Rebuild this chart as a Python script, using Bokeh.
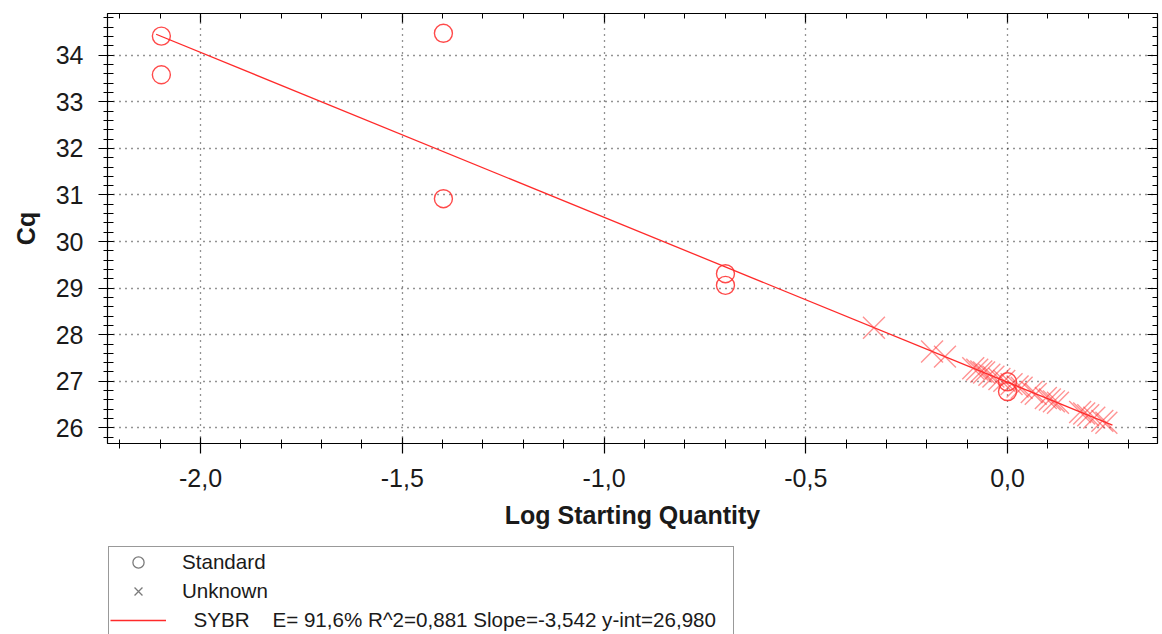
import numpy as np
from bokeh.plotting import figure
from bokeh.layouts import column
from bokeh.models import (LinearAxis, FixedTicker, CustomJSTickFormatter, Legend,
                          LegendItem, Range1d, ColumnDataSource)
from bokeh.embed import file_html
from bokeh.resources import INLINE

# ---- data ----
std_x = [-2.097, -2.097, -1.398, -1.398, -0.699, -0.699, 0.0, 0.0]
std_y = [34.41, 33.58, 34.47, 30.92, 29.31, 29.06, 26.99, 26.78]

unk_x = [-0.331, -0.187, -0.155, -0.085, -0.075, -0.065, -0.058, -0.045, -0.035,
         -0.020, -0.008, 0.010, 0.025, 0.035, 0.060, 0.070, 0.095, 0.105, 0.115,
         0.125, 0.180, 0.190, 0.200, 0.215, 0.235, 0.245]
unk_y = [28.15, 27.64, 27.53, 27.28, 27.25, 27.21, 27.19, 27.14, 27.10,
         27.05, 27.01, 26.94, 26.89, 26.86, 26.77, 26.73, 26.64, 26.61, 26.57,
         26.54, 26.34, 26.31, 26.27, 26.22, 26.15, 26.11]

fit_x = [-2.11, 0.26]
fit_y = [34.45, 26.06]

x_ticks = [-2.0, -1.5, -1.0, -0.5, 0.0]
y_ticks = [26, 27, 28, 29, 30, 31, 32, 33, 34]

legend_labels = ["Standard", "Unknown",
                 "\u00a0\u00a0SYBR\u00a0\u00a0\u00a0\u00a0E= 91,6% R^2=0,881 Slope=-3,542 y-int=26,980"]
x_title = "Log Starting Quantity"
y_title = "Cq"

# ---- styles ----
FONT = "Liberation Sans"
TXT = "#1a1a1a"
RED = "#ff2a2a"
GREY = "#7a7a7a"

# ---- main chart ----
p = figure(width=1162, height=545, output_backend="svg", toolbar_location=None,
           x_range=Range1d(-2.2305, 0.3717), y_range=Range1d(25.665, 34.895),
           min_border_left=107, min_border_right=5, min_border_top=13,
           min_border_bottom=102, background_fill_color="white",
           border_fill_color="white", outline_line_color="black")

x_minor = [round(v, 2) for v in np.arange(-2.2, 0.41, 0.1)]
y_minor = [round(v, 2) for v in np.arange(25.6, 35.0, 0.2)]
xt = FixedTicker(ticks=x_ticks, minor_ticks=x_minor)
yt = FixedTicker(ticks=y_ticks, minor_ticks=y_minor)
xfmt = CustomJSTickFormatter(code="var s = tick.toFixed(1).replace('.', ','); return s == '-0,0' ? '0,0' : s;")
blank = CustomJSTickFormatter(code="return '';")

def style_axis(ax):
    ax.axis_line_color = "black"
    ax.axis_line_width = 1.2
    ax.major_tick_line_color = "black"
    ax.minor_tick_line_color = "black"
    ax.major_tick_line_width = 1.2
    ax.minor_tick_line_width = 1
    ax.major_label_text_font = FONT
    ax.major_label_text_font_size = "25px"
    ax.major_label_text_color = TXT
    ax.axis_label_text_font = FONT
    ax.axis_label_text_font_size = "25px"
    ax.axis_label_text_font_style = "bold"
    ax.axis_label_text_color = TXT

xa = p.xaxis[0]
xa.ticker = xt
xa.formatter = xfmt
style_axis(xa)
xa.major_tick_in, xa.major_tick_out = 6, 10
xa.minor_tick_in, xa.minor_tick_out = 4, 5
xa.major_label_standoff = 15
xa.axis_label = x_title
xa.axis_label_standoff = 11

ya = p.yaxis[0]
ya.ticker = yt
style_axis(ya)
ya.major_tick_in, ya.major_tick_out = 6, 9
ya.minor_tick_in, ya.minor_tick_out = 6, 4
ya.major_label_standoff = 15
ya.axis_label = y_title
ya.axis_label_standoff = 13

top = LinearAxis(ticker=xt, formatter=blank)
style_axis(top)
top.major_tick_in, top.major_tick_out = 9, 0
top.minor_tick_in, top.minor_tick_out = 5, 0
top.major_label_standoff = 0
top.major_label_text_font_size = "0px"
p.add_layout(top, "above")

right = LinearAxis(ticker=yt, formatter=blank)
style_axis(right)
right.major_tick_in, right.major_tick_out = 10, 0
right.minor_tick_in, right.minor_tick_out = 5, 0
right.major_label_standoff = 0
right.major_label_text_font_size = "0px"
p.add_layout(right, "right")

for g in (p.xgrid[0], p.ygrid[0]):
    g.grid_line_color = "black"
    g.grid_line_dash = "1 5"
    g.grid_line_width = 1.3
    g.grid_line_alpha = 0.85
p.xgrid[0].ticker = xt
p.ygrid[0].ticker = yt

r_unk = p.scatter(unk_x, unk_y, marker="x", size=31, line_color=RED,
                  line_alpha=0.5, line_width=1.4)
r_std = p.scatter(std_x, std_y, marker="circle", size=18, fill_color=None,
                  line_color=RED, line_alpha=0.85, line_width=1.4)
r_fit = p.line(fit_x, fit_y, line_color=RED, line_width=1.3)

# ---- legend panel (clipped at the bottom edge like the reference) ----
lf = figure(width=1162, height=89, output_backend="svg", toolbar_location=None,
            x_range=Range1d(0, 1), y_range=Range1d(0, 1),
            x_axis_location=None, y_axis_location=None,
            min_border_left=97, min_border_right=0, min_border_top=0,
            min_border_bottom=0, outline_line_color=None,
            background_fill_color="white", border_fill_color="white")
lf.xgrid.visible = False
lf.ygrid.visible = False

# legend proxies: one NaN row each, so nothing is drawn in the panel itself
proxy = ColumnDataSource(data=dict(x=[np.nan], y=[np.nan]))
leg_std = lf.scatter("x", "y", source=proxy, marker="circle", size=18,
                     fill_color=None, line_color=GREY, line_width=1.3)
leg_unk = lf.scatter("x", "y", source=proxy, marker="x", size=31,
                     line_color=GREY, line_width=1.3)
leg_fit = lf.line("x", "y", source=proxy, line_color=RED, line_width=1.3)

legend = Legend(items=[LegendItem(label=legend_labels[0], renderers=[leg_std]),
                       LegendItem(label=legend_labels[1], renderers=[leg_unk]),
                       LegendItem(label=legend_labels[2], renderers=[leg_fit])],
                location="top_left", orientation="vertical", margin=1,
                label_text_font=FONT, label_text_font_size="20.6px",
                label_text_color=TXT, glyph_width=56, glyph_height=28,
                spacing=1, padding=1, label_standoff=16, label_width=550,
                border_line_color="#333333", border_line_width=1.2,
                background_fill_color="white", background_fill_alpha=1.0)
lf.add_layout(legend, "center")

page = column(p, lf, spacing=0)
open("out.html", "w").write(file_html(page, INLINE))
